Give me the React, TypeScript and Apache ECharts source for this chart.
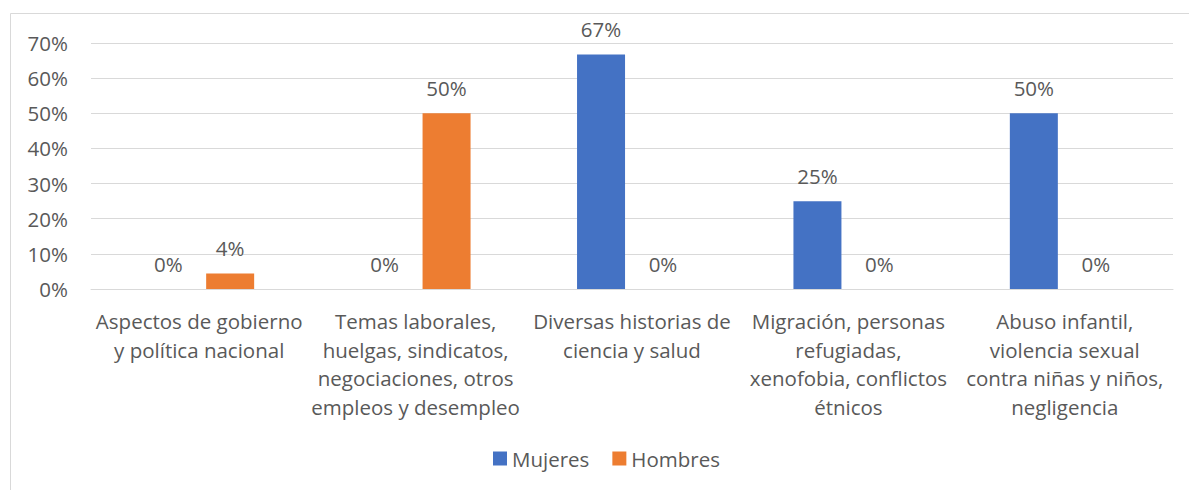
import React, { useEffect, useRef } from "react";
import * as echarts from "echarts";

const categories = [
  "Aspectos de gobierno\ny política nacional",
  "Temas laborales,\nhuelgas, sindicatos,\nnegociaciones, otros\nempleos y desempleo",
  "Diversas historias de\nciencia y salud",
  "Migración, personas\nrefugiadas,\nxenofobia, conflictos\nétnicos",
  "Abuso infantil,\nviolencia sexual\ncontra niñas y niños,\nnegligencia",
];
const mujeres = [0, 0, 66.7, 25, 50];
const hombres = [4.4, 50, 0, 0, 0];
const seriesNames = ["Mujeres", "Hombres"];

const FONT = "'Open Sans', 'Noto Sans', sans-serif";
const TXT = "#595959";
const FS = 20.5;

export default function App() {
  const ref = useRef<HTMLDivElement>(null);
  useEffect(() => {
    const chart = echarts.init(ref.current!, null, { renderer: "svg" });
    const label = {
      show: true,
      position: "top",
      distance: 15,
      color: TXT,
      fontSize: FS,
      fontFamily: FONT,
      formatter: (p: any) => `${Math.round(p.value)}%`,
    };
    chart.setOption({
      animation: false,
      backgroundColor: "#fff",
      textStyle: { fontFamily: FONT },
      graphic: [
        {
          type: "rect",
          shape: { x: 10.5, y: 13.5, width: 1200, height: 500 },
          style: { fill: "none", stroke: "#D9D9D9", lineWidth: 1 },
          silent: true,
        },
      ],
      grid: { left: 91, right: 16, top: 43, bottom: 201, containLabel: false },
      legend: {
        data: seriesNames,
        bottom: 16,
        left: 488,
        itemWidth: 14,
        itemHeight: 14,
        itemGap: 23,
        icon: "rect",
        textStyle: { color: TXT, fontSize: FS, fontFamily: FONT },
      },
      xAxis: {
        type: "category",
        data: categories,
        axisLine: { show: true, lineStyle: { color: "#D9D9D9" } },
        axisTick: { show: false },
        axisLabel: {
          interval: 0,
          color: TXT,
          fontSize: FS,
          fontFamily: FONT,
          lineHeight: 28.5,
          margin: 18,
        },
      },
      yAxis: {
        type: "value",
        min: 0,
        max: 70,
        interval: 10,
        axisLine: { show: false },
        axisTick: { show: false },
        splitLine: { lineStyle: { color: "#D9D9D9", width: 1 } },
        axisLabel: {
          color: TXT,
          fontSize: FS,
          fontFamily: FONT,
          margin: 23,
          formatter: (v: number) => `${v}%`,
        },
      },
      series: [
        {
          name: seriesNames[0],
          type: "bar",
          data: mujeres,
          barWidth: 48,
          barGap: "29%",
          itemStyle: { color: "#4472C4" },
          label,
        },
        {
          name: seriesNames[1],
          type: "bar",
          data: hombres,
          barWidth: 48,
          itemStyle: { color: "#ED7D31" },
          label,
        },
      ],
    });
    return () => chart.dispose();
  }, []);
  return (
    <div
      ref={ref}
      style={{ position: "absolute", left: 0, top: 0, width: 1189, height: 490 }}
    />
  );
}
